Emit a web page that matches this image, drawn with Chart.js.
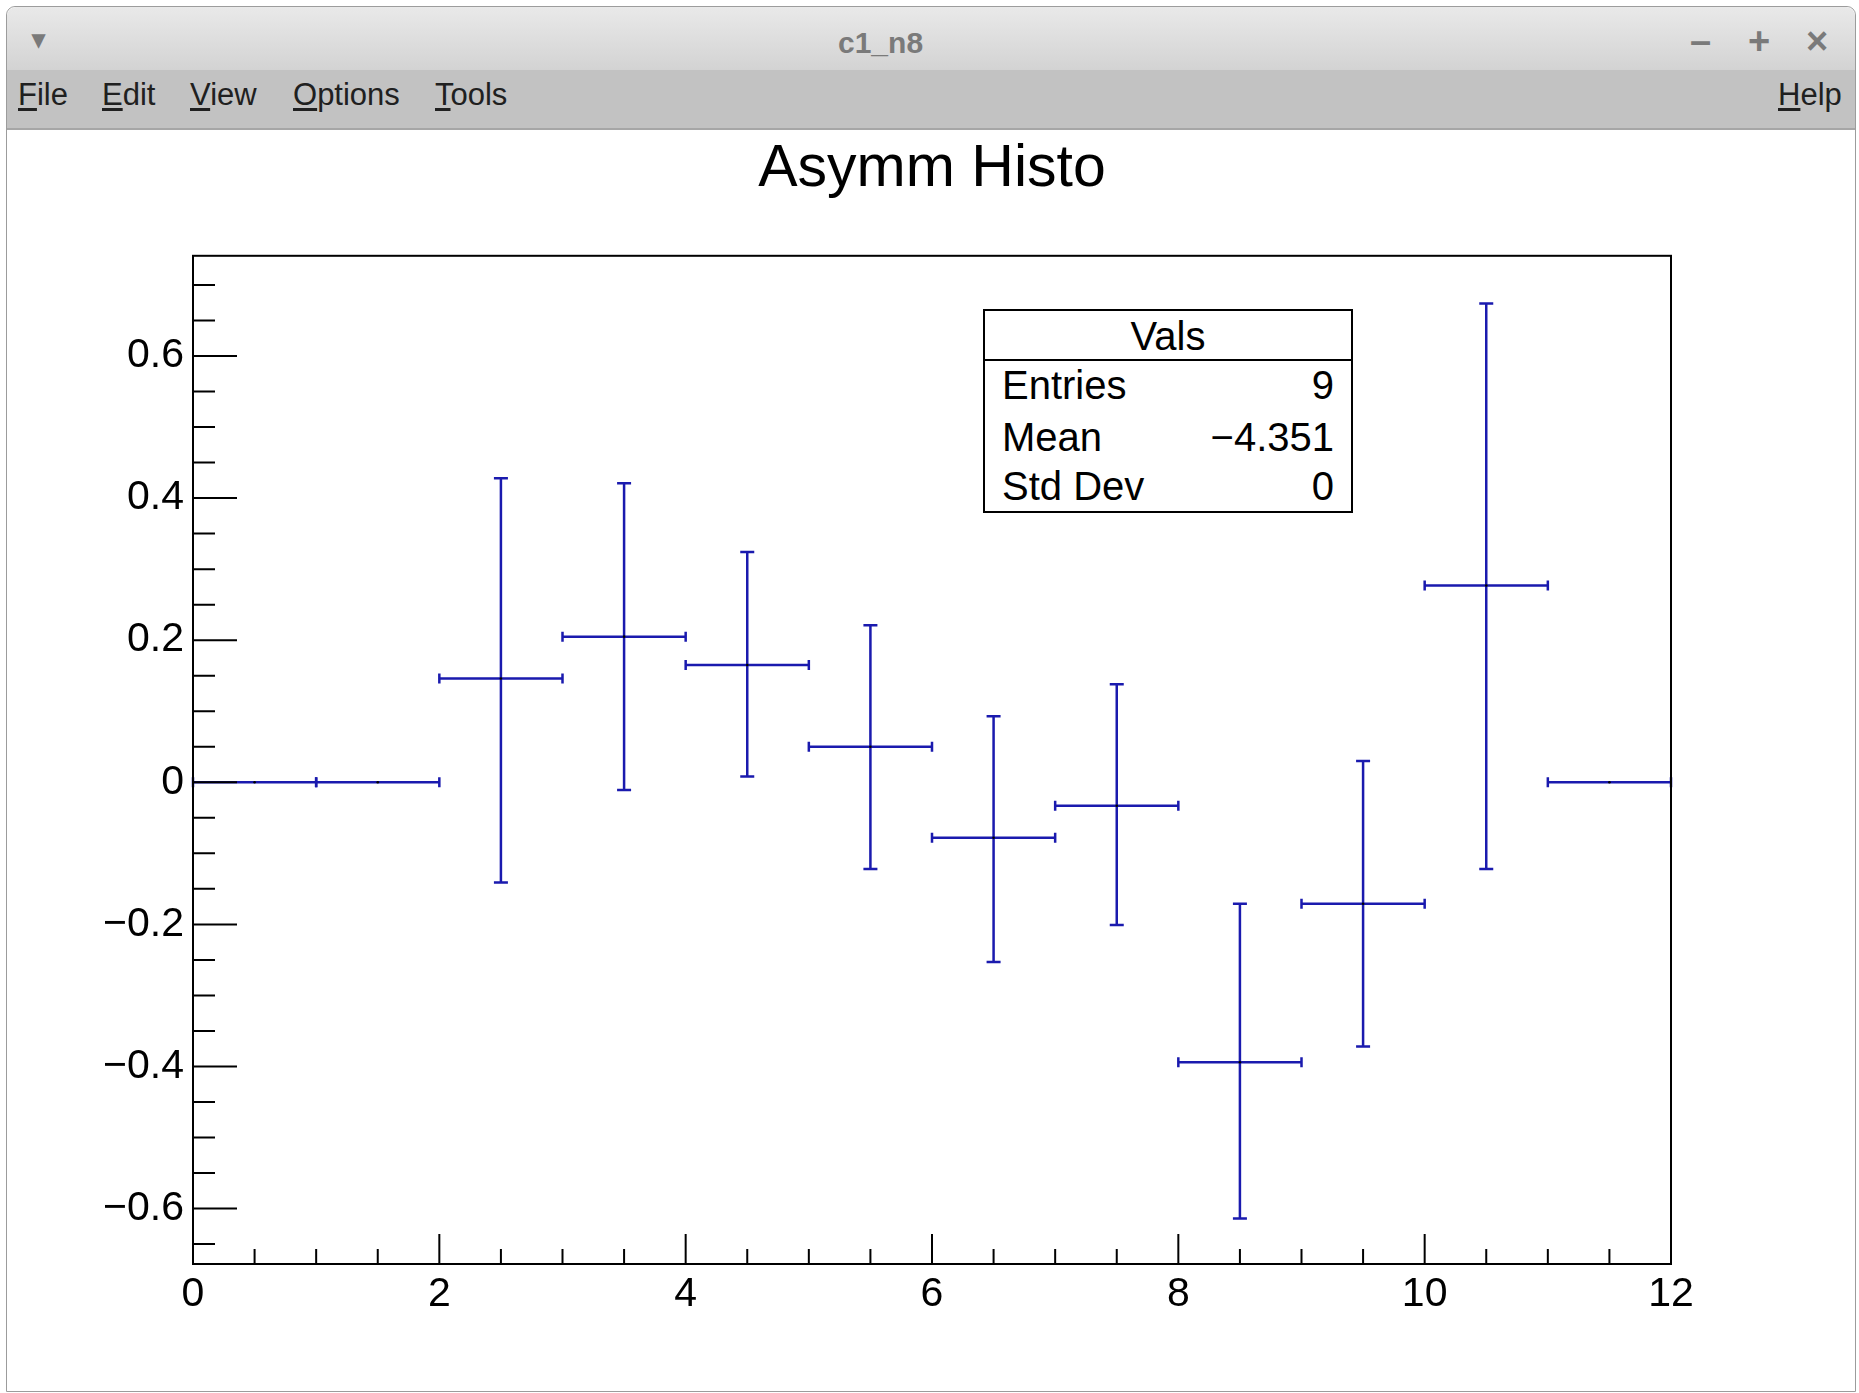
<!DOCTYPE html>
<html>
<head>
<meta charset="utf-8">
<title>c1_n8</title>
<script src="https://cdn.jsdelivr.net/npm/chart.js@4.4.0/dist/chart.umd.min.js"></script>
<style>
  body { margin: 0; width: 1859px; height: 1393px; overflow: hidden; background: #fff;
         position: relative; font-family: "Liberation Sans", Arial, sans-serif; }
  #win { position: absolute; left: 6px; top: 6px; width: 1848px; height: 1384px;
         border: 1px solid #9c9c9c; border-radius: 9px 9px 0 0; background: #fff; }
  #titlebar { position: absolute; left: 0; top: 0; right: 0; height: 63px;
              background: linear-gradient(#e9e9e9, #d3d3d3); border-radius: 9px 9px 0 0; }
  #menubar { position: absolute; left: 0; top: 63px; right: 0; height: 58px;
             background: #c2c2c2; border-bottom: 2px solid #a6a6a6; }
  .wt { position: absolute; color: #7a7a7a; font-weight: bold; line-height: 1; }
  .mi { position: absolute; top: 79px; font-size: 31px; color: #202020; line-height: 1; }
  .mi u { text-decoration: underline; text-underline-offset: 3px; }
  #chart { position: absolute; left: 0; top: 0; z-index: 2; }
  #stats { position: absolute; left: 983px; top: 309px; width: 366px; height: 200px;
           border: 2px solid #000; background: #fff; z-index: 3; font-size: 40px; color: #000; }
  #stats .hd { position: absolute; left: 0; right: 0; top: 0; height: 48px; border-bottom: 2px solid #000;
               text-align: center; line-height: 50px; }
  #stats .row { position: absolute; left: 17px; right: 17px; height: 46px; line-height: 46px; }
  #stats .row span { float: right; }
</style>
</head>
<body>
<div id="win">
  <div id="titlebar"></div>
  <div id="menubar"></div>
</div>
<div class="wt" style="left:32px;top:26px;font-size:26px;">&#9662;</div>
<div class="wt" style="left:838px;top:28px;font-size:30px;">c1_n8</div>
<div class="wt" style="left:1690px;top:22px;font-size:38px;">&#8211;</div>
<div class="wt" style="left:1748px;top:22px;font-size:38px;">+</div>
<div class="wt" style="left:1806px;top:22px;font-size:38px;">&#215;</div>
<div class="mi" style="left:18px;"><u>F</u>ile</div>
<div class="mi" style="left:102px;"><u>E</u>dit</div>
<div class="mi" style="left:190px;"><u>V</u>iew</div>
<div class="mi" style="left:293px;"><u>O</u>ptions</div>
<div class="mi" style="left:435px;"><u>T</u>ools</div>
<div class="mi" style="left:1778px;"><u>H</u>elp</div>

<canvas id="chart" width="1859" height="1393"></canvas>

<div id="stats">
  <div class="hd">Vals</div>
  <div class="row" style="top:51px;">Entries<span>9</span></div>
  <div class="row" style="top:103px;">Mean<span>&#8722;4.351</span></div>
  <div class="row" style="top:152px;">Std Dev<span>0</span></div>
</div>

<script>
// histogram bins (12 bins from 0 to 12)
const binLow = [0, 1, 2, 3, 4, 5, 6, 7, 8, 9, 10, 11];
const binHigh = [1, 2, 3, 4, 5, 6, 7, 8, 9, 10, 11, 12];
const binCenter = [0.5, 1.5, 2.5, 3.5, 4.5, 5.5, 6.5, 7.5, 8.5, 9.5, 10.5, 11.5];
const binContent = [0, 0, 0.146, 0.205, 0.165, 0.050, -0.078, -0.033, -0.394, -0.171, 0.277, 0];
const errUp = [0, 0, 0.282, 0.216, 0.159, 0.171, 0.171, 0.171, 0.223, 0.201, 0.397, 0];
const errDown = [0, 0, 0.287, 0.216, 0.157, 0.172, 0.175, 0.168, 0.220, 0.201, 0.399, 0];

const xMin = 0, xMax = 12;
const yMin = -0.678, yMax = 0.741;

const FONT = "'Liberation Sans', Arial, Helvetica, sans-serif";
const errColor = "#1a1aae";

function fmtY(v) {
  if (Math.abs(v) < 1e-9) return "0";
  return (v < 0 ? "\u2212" : "") + Math.abs(v).toFixed(1);
}

// ROOT style error bars: drawn through the chart scales
const errorBars = {
  id: "errorBars",
  beforeDatasetsDraw(chart) {
    const { ctx, scales: { x, y } } = chart;
    ctx.save();
    ctx.strokeStyle = errColor;
    ctx.lineWidth = 2.5;
    ctx.lineCap = "butt";
    for (let i = 0; i < binCenter.length; i++) {
      const px = x.getPixelForValue(binCenter[i]);
      const py = y.getPixelForValue(binContent[i]);
      const xl = x.getPixelForValue(binLow[i]);
      const xr = x.getPixelForValue(binHigh[i]);
      const yt = y.getPixelForValue(binContent[i] + errUp[i]);
      const yb = y.getPixelForValue(binContent[i] - errDown[i]);
      ctx.beginPath();
      ctx.moveTo(xl, py); ctx.lineTo(xr, py);
      ctx.moveTo(xl, py - 5); ctx.lineTo(xl, py + 5);
      ctx.moveTo(xr, py - 5); ctx.lineTo(xr, py + 5);
      if (errUp[i] > 0 || errDown[i] > 0) {
        ctx.moveTo(px, yt); ctx.lineTo(px, yb);
        ctx.moveTo(px - 7, yt); ctx.lineTo(px + 7, yt);
        ctx.moveTo(px - 7, yb); ctx.lineTo(px + 7, yb);
      }
      ctx.stroke();
    }
    ctx.restore();
  }
};

// frame + inward ticks like a ROOT pad
const rootFrame = {
  id: "rootFrame",
  afterDraw(chart) {
    const { ctx, chartArea: a, scales: { x, y } } = chart;
    ctx.save();
    ctx.strokeStyle = "#000";
    ctx.lineWidth = 2;
    ctx.strokeRect(a.left, a.top, a.right - a.left, a.bottom - a.top);

    ctx.beginPath();
    const xt = x.ticks.map(t => t.value);
    for (let i = 0; i < xt.length; i++) {
      const p = x.getPixelForValue(xt[i]);
      ctx.moveTo(p, a.bottom); ctx.lineTo(p, a.bottom - 30);
      if (i < xt.length - 1) {
        const step = (xt[i + 1] - xt[i]) / 4;
        for (let k = 1; k < 4; k++) {
          const q = x.getPixelForValue(xt[i] + k * step);
          ctx.moveTo(q, a.bottom); ctx.lineTo(q, a.bottom - 15);
        }
      }
    }
    const yt = y.ticks.map(t => t.value);
    const ystep = (yt[1] - yt[0]) / 4;
    for (let v = yt[0] - ystep; v >= yMin; v -= ystep) {
      const q = y.getPixelForValue(v);
      ctx.moveTo(a.left, q); ctx.lineTo(a.left + 22, q);
    }
    for (let i = 0; i < yt.length; i++) {
      const p = y.getPixelForValue(yt[i]);
      ctx.moveTo(a.left, p); ctx.lineTo(a.left + 44, p);
      const last = i === yt.length - 1;
      for (let k = 1; k < 4; k++) {
        const v = yt[i] + k * ystep;
        if (last && v > yMax) break;
        const q = y.getPixelForValue(v);
        ctx.moveTo(a.left, q); ctx.lineTo(a.left + 22, q);
      }
    }
    ctx.stroke();
    ctx.restore();
  }
};

new Chart(document.getElementById("chart").getContext("2d"), {
  type: "scatter",
  data: {
    datasets: [{
      label: "Asymm Histo",
      data: binCenter.map((c, i) => ({ x: c, y: binContent[i] })),
      pointRadius: 1.3,
      pointBackgroundColor: "#000",
      pointBorderWidth: 0,
      showLine: false
    }]
  },
  options: {
    responsive: false,
    animation: false,
    layout: { padding: { left: 0, right: 188, top: 0, bottom: 0 } },
    plugins: {
      legend: { display: false },
      tooltip: { enabled: false },
      title: {
        display: true,
        text: "Asymm Histo",
        fullSize: false,
        color: "#000",
        font: { family: FONT, size: 59, weight: "normal" },
        padding: { top: 134, bottom: 51 }
      }
    },
    scales: {
      x: {
        type: "linear",
        min: xMin, max: xMax,
        grid: { display: false, drawTicks: false },
        border: { display: false },
        ticks: { stepSize: 2, includeBounds: false, color: "#000", padding: 6,
                 maxRotation: 0, font: { family: FONT, size: 41 } },
        afterFit(s) { s.height = 129; }
      },
      y: {
        type: "linear",
        min: yMin, max: yMax,
        grid: { display: false, drawTicks: false },
        border: { display: false },
        ticks: { stepSize: 0.2, includeBounds: false, color: "#000", padding: 9,
                 font: { family: FONT, size: 41 }, callback: fmtY },
        afterFit(s) { s.width = 193; }
      }
    }
  },
  plugins: [errorBars, rootFrame]
});
</script>
</body>
</html>
